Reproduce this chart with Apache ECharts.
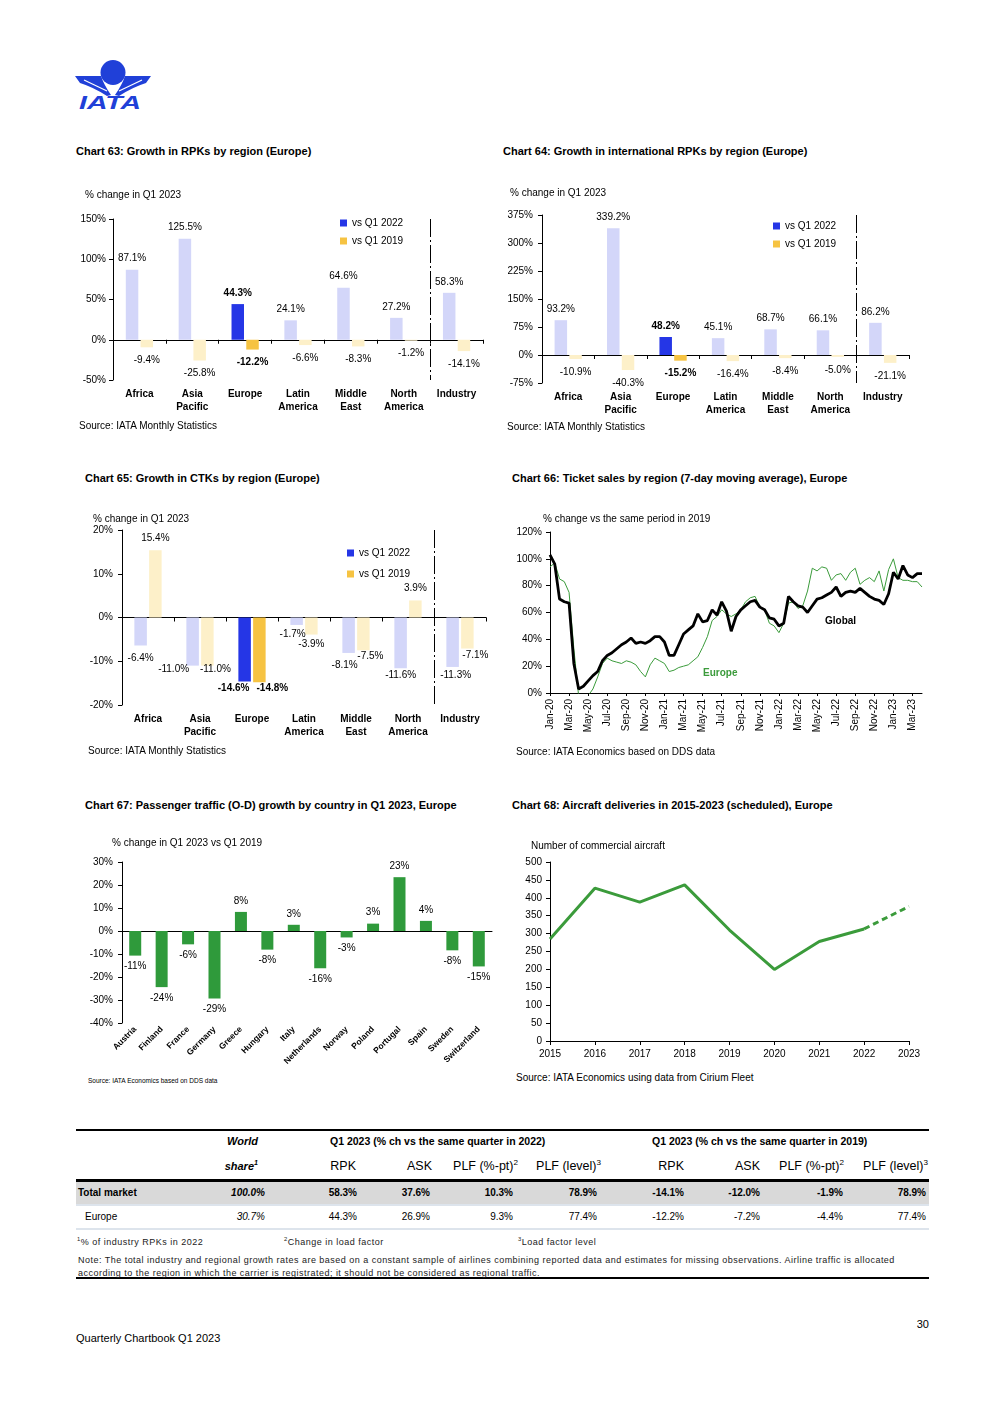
<!DOCTYPE html>
<html><head><meta charset="utf-8"><title>IATA Quarterly Chartbook Q1 2023 - Europe</title>
<script src="https://cdn.jsdelivr.net/npm/echarts@6.0.0/dist/echarts.min.js"></script>
<style>
html,body{margin:0;padding:0;background:#fff}
body{position:relative;width:992px;height:1403px;overflow:hidden;font-family:'Liberation Sans',Arial,Helvetica,sans-serif;color:#000}
.t{position:absolute;white-space:nowrap}
.box{position:absolute}
.rule{position:absolute;left:76px;width:853px}
sup{font-size:65%;line-height:0;vertical-align:super}
</style></head><body>
<svg style="position:absolute;left:0;top:0" width="200" height="130" viewBox="0 0 200 130">
  <circle cx="113" cy="72.5" r="12.5" fill="#2040d8"/>
  <path d="M75,76 L101,76 Q104,85 111,95 L107,96 Q93,87 80,83 Z" fill="#2040d8"/>
  <path d="M151,76 L125,76 Q122,85 115,95 L119,96 Q133,87 146,83 Z" fill="#2040d8"/>
  <path d="M84,80 L107,91" stroke="#fff" stroke-width="1.2"/>
  <path d="M142,80 L119,91" stroke="#fff" stroke-width="1.2"/>
  <text x="110" y="109" text-anchor="middle" font-family="Liberation Sans, Arial, sans-serif" font-size="19" font-weight="bold" font-style="italic" textLength="62" lengthAdjust="spacingAndGlyphs" fill="#2040d8">IATA</text>
</svg>
<script>
// ---------------- DATA ----------------
const seriesNames = ['vs Q1 2022', 'vs Q1 2019'];
const regionCats = ['Africa', 'Asia\nPacific', 'Europe', 'Latin\nAmerica', 'Middle\nEast', 'North\nAmerica', 'Industry'];
// Chart 63: RPKs
const rpkVs2022 = [87.1, 125.5, 44.3, 24.1, 64.6, 27.2, 58.3];
const rpkVs2019 = [-9.4, -25.8, -12.2, -6.6, -8.3, -1.2, -14.1];
// Chart 64: international RPKs
const intlRpkVs2022 = [93.2, 339.2, 48.2, 45.1, 68.7, 66.1, 86.2];
const intlRpkVs2019 = [-10.9, -40.3, -15.2, -16.4, -8.4, -5.0, -21.1];
// Chart 65: CTKs
const ctkVs2022 = [-6.4, -11.0, -14.6, -1.7, -8.1, -11.6, -11.3];
const ctkVs2019 = [15.4, -11.0, -14.8, -3.9, -7.5, 3.9, -7.1];
// Chart 66: ticket sales, % vs 2019 (half-month readings, Jan-20 .. Apr-23)
const salesGlobal = [103,96,70,68,67,22,3,5,9,13,16,24,28,30,33,36,38,41,37,38,37,39,42,42,38,28,28,36,44,47,50,59,53,54,62,58,68,61,46,57,62,65,68,69,64,62,56,55,50,52,72,68,65,64,60,65,70,71,73,75,79,72,75,76,75,78,75,72,70,69,66,74,90,85,95,88,86,89,89];
const salesEurope = [94,97,85,83,75,33,-2,-3,-2,3,12,22,26,24,23,22,24,23,21,16,12,21,26,24,22,16,17,19,20,21,24,27,34,42,54,57,62,59,57,59,62,68,71,72,64,62,52,50,45,52,67,68,63,65,76,93,91,94,93,84,88,89,84,90,93,81,84,86,83,91,76,92,100,86,84,84,83,83,79];
const salesSeriesNames = ['Global', 'Europe'];
// Chart 67: O-D growth by country
const countries = ['Austria','Finland','France','Germany','Greece','Hungary','Italy','Netherlands','Norway','Poland','Portugal','Spain','Sweden','Switzerland'];
const odGrowth = [-10.7, -24.4, -5.8, -29.3, 8.3, -8.1, 2.7, -16.2, -2.8, 3.2, 23.4, 4.4, -8.4, -15.4];
// Chart 68: aircraft deliveries
const deliveryYears = ['2015','2016','2017','2018','2019','2020','2021','2022','2023'];
const deliveries = [285, 427, 388, 436, 310, 200, 278, 313, 376];
const lastActualYear = '2022';
// Table
const tableGroups = ['Q1 2023 (% ch vs the same quarter in 2022)', 'Q1 2023 (% ch vs the same quarter in 2019)'];
const tableCols = ['RPK', 'ASK', 'PLF (%-pt)<sup>2</sup>', 'PLF (level)<sup>3</sup>'];
const totalMarketRow = ['Total market', '100.0%', '58.3%', '37.6%', '10.3%', '78.9%', '-14.1%', '-12.0%', '-1.9%', '78.9%'];
const europeRow = ['Europe', '30.7%', '44.3%', '26.9%', '9.3%', '77.4%', '-12.2%', '-7.2%', '-4.4%', '77.4%'];

// ---------------- STYLE / HELPERS ----------------
const FONT = "'Liberation Sans', Arial, Helvetica, sans-serif";
const BLUE = '#2536e6', PALE_BLUE = '#d3d6f9', YELLOW = '#f6c342', PALE_YELLOW = '#fdf0c9';
const GREEN = '#2f9a3b', GREEN_LINE = '#3b9b3b';

function box(l, t, w, h) {
  const d = document.createElement('div'); d.className = 'box';
  Object.assign(d.style, {left: l + 'px', top: t + 'px', width: w + 'px', height: h + 'px'});
  document.body.appendChild(d); return d;
}
function txt(x, y, html, o) {
  o = o || {}; const fs = o.fs || 10; const lh = Math.round(fs * 1.25);
  const d = document.createElement('div'); d.className = 't'; d.innerHTML = html;
  d.style.fontSize = fs + 'px'; d.style.lineHeight = lh + 'px'; d.style.top = (y - lh / 2) + 'px';
  if (o.align === 'right') d.style.right = (992 - x) + 'px'; else d.style.left = x + 'px';
  if (o.bold) d.style.fontWeight = 'bold';
  if (o.italic) d.style.fontStyle = 'italic';
  if (o.color) d.style.color = o.color;
  if (o.ls != null) d.style.letterSpacing = o.ls + 'px';
  if (o.ws != null) d.style.wordSpacing = o.ws + 'px';
  document.body.appendChild(d); return d;
}
function rule(y, h, color) {
  const d = document.createElement('div'); d.className = 'rule';
  d.style.top = y + 'px'; d.style.height = h + 'px'; d.style.background = color;
  document.body.appendChild(d);
}
const AXIS_LINE = {show: true, lineStyle: {color: '#000', width: 1}};
const TICK = {show: true, length: 4, lineStyle: {color: '#000', width: 1}};
const LABEL = {color: '#000', fontSize: 10, fontFamily: FONT};
function gridOf(g) { return {left: g[0], top: g[1], width: g[2], height: g[3], containLabel: false, outerBoundsMode: 'none'}; }

// ---------------- REGION BAR CHARTS (63, 64, 65) ----------------
function regionChart(div, cfg) {
  const ch = echarts.init(div, null, {renderer: 'canvas'});
  const HL = regionCats.indexOf('Europe');
  const SEP = regionCats.indexOf('Industry');
  const mkData = (vals, base, pale, nudge) => vals.map((v, i) => ({
    value: v,
    itemStyle: {color: i === HL ? base : pale},
    label: {position: v < 0 ? 'bottom' : 'top', distance: v < 0 ? cfg.dBottom : cfg.dTop,
            fontWeight: i === HL ? 'bold' : 'normal', offset: nudge ? nudge[i] : [0, 0]}
  }));
  const lab = Object.assign({show: true, formatter: p => p.value.toFixed(1) + '%'}, LABEL);
  ch.setOption({
    animation: false,
    textStyle: {fontFamily: FONT},
    grid: gridOf(cfg.grid),
    legend: {show: true, orient: 'vertical', left: cfg.legend[0], top: cfg.legend[1], padding: 0, itemWidth: 7, itemHeight: 7,
             itemGap: cfg.legend[2], icon: 'rect', selectedMode: false,
             textStyle: Object.assign({lineHeight: 12}, LABEL), data: seriesNames},
    xAxis: [
      {type: 'category', data: regionCats, axisLine: AXIS_LINE,
       axisTick: {show: true, length: 4, interval: 0, lineStyle: {color: '#000'}}, axisLabel: {show: false},
       splitLine: {show: true, interval: (i) => i === 0 || i === SEP, showMinLine: false, showMaxLine: false,
                   lineStyle: {color: '#000', width: 1, type: [18, 3, 2, 3]}}},
      {type: 'category', data: regionCats, position: 'bottom', axisLine: {show: false, onZero: false},
       axisTick: {show: false}, splitLine: {show: false},
       axisLabel: Object.assign({interval: 0, fontWeight: 'bold', lineHeight: 13, margin: cfg.catMargin}, LABEL)}
    ],
    yAxis: {type: 'value', min: cfg.min, max: cfg.max, interval: cfg.interval, axisLine: AXIS_LINE, axisTick: TICK,
            splitLine: {show: false}, axisLabel: Object.assign({formatter: '{value}%', margin: cfg.yMargin}, LABEL)},
    series: [
      {name: seriesNames[0], type: 'bar', xAxisIndex: 0, data: mkData(cfg.a, BLUE, PALE_BLUE, cfg.nudgeA),
       itemStyle: {color: BLUE}, barWidth: 12.5, barGap: '18%', label: lab},
      {name: seriesNames[1], type: 'bar', xAxisIndex: 0, data: mkData(cfg.b, YELLOW, PALE_YELLOW, cfg.nudgeB),
       itemStyle: {color: YELLOW}, barWidth: 12.5, barGap: '18%', label: lab}
    ]
  });
}

regionChart(box(70, 160, 430, 260), {a: rpkVs2022, b: rpkVs2019, min: -50, max: 150, interval: 50,
  grid: [43, 59, 370, 161], legend: [270, 57, 6], dTop: 6, dBottom: 8, yMargin: 7, catMargin: 8});
regionChart(box(500, 160, 430, 260), {a: intlRpkVs2022, b: intlRpkVs2019, min: -75, max: 375, interval: 75,
  grid: [42, 55, 367, 168], legend: [273, 60, 6], dTop: 6, dBottom: 8, yMargin: 9, catMargin: 8});
regionChart(box(80, 490, 420, 260), {a: ctkVs2022, b: ctkVs2019, min: -20, max: 20, interval: 10,
  grid: [42, 40, 364, 175], legend: [267, 57, 9], dTop: 7, dBottom: 4, yMargin: 9, catMargin: 8,
  nudgeA: [[0, 4], [-19, -5], [-11, -2], [-4, 0], [-4, 3], [0, -2], [3, -1]],
  nudgeB: [[0, 0], [8, -5], [13, -3], [0, 1], [7, -3], [0, 0], [8, -2]]});

// ---------------- CHART 66: ticket sales lines ----------------
(function () {
  const mon = ['Jan','Feb','Mar','Apr','May','Jun','Jul','Aug','Sep','Oct','Nov','Dec'];
  const periods = [];
  for (let y = 2020; y <= 2023; y++) for (let m = 0; m < 12; m++) {
    const lab = mon[m] + '-' + String(y).slice(2);
    periods.push(lab, 'mid ' + lab);
  }
  const cats = periods.slice(0, salesGlobal.length);
  const ch = echarts.init(box(505, 505, 425, 240));
  ch.setOption({
    animation: false, textStyle: {fontFamily: FONT},
    grid: gridOf([45, 27, 372, 161]),
    xAxis: {type: 'category', data: cats, boundaryGap: false, axisLine: AXIS_LINE,
            axisTick: {show: true, length: 3, interval: 3, lineStyle: {color: '#000'}},
            axisLabel: Object.assign({interval: 3, rotate: 90, margin: 6}, LABEL), splitLine: {show: false}},
    yAxis: {type: 'value', min: 0, max: 120, interval: 20, axisLine: AXIS_LINE, axisTick: TICK, splitLine: {show: false},
            axisLabel: Object.assign({formatter: '{value}%', margin: 8}, LABEL)},
    series: [
      {name: salesSeriesNames[1], type: 'line', data: salesEurope, symbol: 'none', clip: true,
       lineStyle: {color: GREEN_LINE, width: 1}},
      {name: salesSeriesNames[0], type: 'line', data: salesGlobal, symbol: 'none', clip: true,
       lineStyle: {color: '#000', width: 2.8}}
    ]
  });
})();

// ---------------- CHART 67: O-D growth by country ----------------
(function () {
  const ch = echarts.init(box(80, 815, 420, 250));
  ch.setOption({
    animation: false, textStyle: {fontFamily: FONT},
    grid: gridOf([42, 47, 370, 161]),
    xAxis: [
      {type: 'category', data: countries, axisLine: AXIS_LINE, axisTick: {show: false}, axisLabel: {show: false}},
      {type: 'category', data: countries, position: 'bottom', axisLine: {show: false, onZero: false}, axisTick: {show: false},
       axisLabel: {interval: 0, rotate: 45, fontSize: 8.5, fontWeight: 'bold', color: '#000', fontFamily: FONT, margin: 5}}
    ],
    yAxis: {type: 'value', min: -40, max: 30, interval: 10, axisLine: AXIS_LINE, axisTick: TICK, splitLine: {show: false},
            axisLabel: Object.assign({formatter: '{value}%', margin: 9}, LABEL)},
    series: [{type: 'bar', xAxisIndex: 0, barWidth: 12, itemStyle: {color: GREEN},
      data: odGrowth.map(v => ({value: v, label: {position: v < 0 ? 'bottom' : 'top'}})),
      label: Object.assign({show: true, distance: 6, formatter: p => Math.round(p.value) + '%'}, LABEL)}]
  });
})();

// ---------------- CHART 68: aircraft deliveries ----------------
(function () {
  const cut = deliveryYears.indexOf(lastActualYear);
  const ch = echarts.init(box(505, 815, 425, 255));
  ch.setOption({
    animation: false, textStyle: {fontFamily: FONT},
    grid: gridOf([45, 47, 359, 179]),
    xAxis: {type: 'category', data: deliveryYears, boundaryGap: false, axisLine: AXIS_LINE,
            axisTick: {show: true, length: 4, interval: 0, lineStyle: {color: '#000'}},
            axisLabel: Object.assign({interval: 0, margin: 8}, LABEL)},
    yAxis: {type: 'value', min: 0, max: 500, interval: 50, axisLine: AXIS_LINE, axisTick: TICK, splitLine: {show: false},
            axisLabel: Object.assign({margin: 8}, LABEL)},
    series: [
      {type: 'line', symbol: 'none', data: deliveries.map((v, i) => i <= cut ? v : null), lineStyle: {color: GREEN_LINE, width: 3}},
      {type: 'line', symbol: 'none', data: deliveries.map((v, i) => i >= cut ? v : null), lineStyle: {color: GREEN_LINE, width: 3, type: [6, 4]}}
    ]
  });
})();

// ---------------- TEXTS ----------------
const T = {fs: 11, bold: true};
txt(76, 151, 'Chart 63: Growth in RPKs by region (Europe)', T);
txt(503, 151, 'Chart 64: Growth in international RPKs by region (Europe)', T);
txt(85, 478, 'Chart 65: Growth in CTKs by region (Europe)', T);
txt(512, 478, 'Chart 66: Ticket sales by region (7-day moving average), Europe', T);
txt(85, 805, 'Chart 67: Passenger traffic (O-D) growth by country in Q1 2023, Europe', T);
txt(512, 805, 'Chart 68: Aircraft deliveries in 2015-2023 (scheduled), Europe', T);

txt(85, 194, '% change in Q1 2023');
txt(510, 192, '% change in Q1 2023');
txt(93, 518, '% change in Q1 2023');
txt(543, 518, '% change vs the same period in 2019');
txt(112, 842, '% change in Q1 2023 vs Q1 2019');
txt(531, 845, 'Number of commercial aircraft');

txt(79, 425, 'Source: IATA Monthly Statistics');
txt(507, 426, 'Source: IATA Monthly Statistics');
txt(88, 750, 'Source: IATA Monthly Statistics');
txt(516, 751, 'Source: IATA Economics based on DDS data');
txt(88, 1081, 'Source: IATA Economics based on DDS data', {fs: 6.5});
txt(516, 1077, 'Source: IATA Economics using data from Cirium Fleet');

txt(825, 620, salesSeriesNames[0], {bold: true});
txt(703, 672, salesSeriesNames[1], {bold: true, color: GREEN_LINE});

// ---------------- TABLE ----------------
rule(1129, 2, '#000');
rule(1179, 3, '#000');
rule(1182, 22, '#d9d9d9');
rule(1204, 2, '#dde4ec');
rule(1228, 2, '#dde4ec');
rule(1277, 2, '#000');
txt(258, 1141, 'World', {fs: 11, bold: true, italic: true, align: 'right'});
txt(258, 1166, 'share<sup>1</sup>', {fs: 11, bold: true, italic: true, align: 'right'});
txt(330, 1141, tableGroups[0], {fs: 10.5, bold: true});
txt(652, 1141, tableGroups[1], {fs: 10.5, bold: true});
const headRight = [356, 432, 518, 601, 684, 760, 844, 928];
headRight.forEach((x, i) => txt(x, 1166, tableCols[i % 4], {fs: 12.5, align: 'right'}));
const valRight = [265, 357, 430, 513, 597, 684, 760, 843, 926];
function tableRow(row, y, bold, indent) {
  txt(indent, y, row[0], {bold: bold});
  row.slice(1).forEach((v, i) => txt(valRight[i], y, v, {bold: bold, italic: i === 0, align: 'right'}));
}
tableRow(totalMarketRow, 1192, true, 78);
tableRow(europeRow, 1216, false, 85);
const FN = {fs: 9, ls: 0.5, color: '#222'};
txt(77, 1242, '<sup>1</sup>% of industry RPKs in 2022', FN);
txt(284, 1242, '<sup>2</sup>Change in load factor', FN);
txt(518, 1242, '<sup>3</sup>Load factor level', FN);
const NOTE = {fs: 9, ls: 0.48, color: '#222'};
txt(78, 1260, 'Note: The total industry and regional growth rates are based on a constant sample of airlines combining reported data and estimates for missing observations. Airline traffic is allocated', NOTE);
txt(78, 1273, 'according to the region in which the carrier is registrated; it should not be considered as regional traffic.', NOTE);

// ---------------- FOOTER ----------------
txt(929, 1324, '30', {fs: 11, align: 'right'});
txt(76, 1338, 'Quarterly Chartbook Q1 2023', {fs: 11});
</script></body></html>
